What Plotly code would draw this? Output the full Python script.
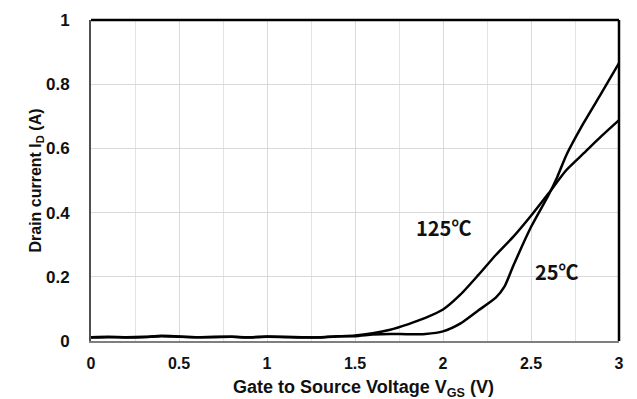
import plotly.graph_objects as go

# Gate voltage (V)
vgs = [0.0, 0.1, 0.2, 0.3, 0.4, 0.5, 0.6, 0.7, 0.8, 0.9, 1.0, 1.1, 1.2, 1.3, 1.4, 1.5,
       1.6, 1.7, 1.8, 1.9, 2.0, 2.1, 2.2, 2.3, 2.4, 2.5, 2.6, 2.7, 2.8, 2.9, 3.0]

# Drain current at 125 C (A)
id_125 = [0.012, 0.013, 0.012, 0.013, 0.016, 0.014, 0.012, 0.013, 0.013, 0.012, 0.014,
          0.013, 0.012, 0.011, 0.014, 0.017, 0.024, 0.035, 0.052, 0.072, 0.098, 0.145,
          0.205, 0.268, 0.325, 0.39, 0.46, 0.532, 0.585, 0.638, 0.688]

# Drain current at 25 C (A)
vgs_25 = [0.0, 0.1, 0.2, 0.3, 0.4, 0.5, 0.6, 0.7, 0.8, 0.9, 1.0, 1.1, 1.2, 1.3, 1.4, 1.5,
          1.6, 1.7, 1.8, 1.9, 2.0, 2.1, 2.2, 2.3, 2.35, 2.4, 2.5, 2.6, 2.65, 2.7, 2.8, 2.9, 3.0]
id_25 = [0.011, 0.012, 0.011, 0.012, 0.015, 0.013, 0.012, 0.012, 0.013, 0.011, 0.013,
         0.012, 0.011, 0.012, 0.015, 0.015, 0.02, 0.022, 0.021, 0.022, 0.03, 0.055,
         0.095, 0.135, 0.17, 0.235, 0.355, 0.455, 0.512, 0.578, 0.68, 0.772, 0.866]

labels = ["125℃", "25℃"]
label_x = [2.0, 2.65]
label_y = [0.355, 0.215]

x_ticks = [0, 0.5, 1, 1.5, 2, 2.5, 3]
x_ticktext = ["0", "0.5", "1", "1.5", "2", "2.5", "3"]
y_ticks = [0, 0.2, 0.4, 0.6, 0.8, 1]
y_ticktext = ["0", "0.2", "0.4", "0.6", "0.8", "1"]

fig = go.Figure()
fig.add_trace(go.Scatter(x=vgs, y=id_125, mode="lines",
                         line=dict(color="black", width=2.5, shape="spline", smoothing=0.6),
                         showlegend=False, hoverinfo="skip"))
fig.add_trace(go.Scatter(x=vgs_25, y=id_25, mode="lines",
                         line=dict(color="black", width=2.5, shape="spline", smoothing=0.6),
                         showlegend=False, hoverinfo="skip"))

for t, xx, yy in zip(labels, label_x, label_y):
    fig.add_annotation(x=xx, y=yy, text=t, showarrow=False, xref="x", yref="y",
                       font=dict(family="Noto Sans CJK KR", size=20, color="#111111", weight="bold"))

# x-axis title placed below the tick labels
fig.add_annotation(x=0.5, y=0, xref="paper", yref="paper", xshift=8, yshift=-47,
                   text="Gate to Source Voltage V<sub>GS</sub> (V)", showarrow=False,
                   xanchor="center", yanchor="middle",
                   font=dict(size=18, family="Liberation Sans", weight="bold", color="#111111"))

# top and right black borders
fig.add_shape(type="line", xref="paper", yref="paper", x0=0, x1=1, y0=1, y1=1,
              line=dict(color="black", width=2.5))
fig.add_shape(type="line", xref="paper", yref="paper", x0=1, x1=1, y0=0, y1=1,
              line=dict(color="black", width=2.5))

# page body adds an 8px offset, so the figure is sized/margined to compensate
fig.update_layout(
    width=629, height=391,
    margin=dict(l=83, r=18, t=12, b=58),
    paper_bgcolor="white", plot_bgcolor="white",
    font=dict(family="Liberation Sans, Arial", color="#111111"),
    xaxis=dict(range=[0, 3], tickvals=x_ticks, ticktext=x_ticktext, automargin=False,
               showgrid=True, gridcolor="#d9d9d9", gridwidth=1,
               minor=dict(dtick=0.25, showgrid=True, gridcolor="#e3e3e3", gridwidth=1),
               showline=True, linecolor="#7f7f7f", linewidth=2,
               zeroline=False, ticks="", ticklabelstandoff=7,
               tickfont=dict(size=16, family="Liberation Sans", weight="bold")),
    yaxis=dict(range=[0, 1], tickvals=y_ticks, ticktext=y_ticktext, automargin=False,
               showgrid=True, gridcolor="#d9d9d9", gridwidth=1,
               showline=True, linecolor="#505050", linewidth=2,
               zeroline=False, ticks="", ticklabelstandoff=16,
               tickfont=dict(size=17, family="Liberation Sans", weight="bold"),
               title=dict(text="Drain current I<sub>D</sub> (A)", standoff=0,
                          font=dict(size=16, family="Liberation Sans", weight="bold"))),
)

fig.write_html("out.html")
